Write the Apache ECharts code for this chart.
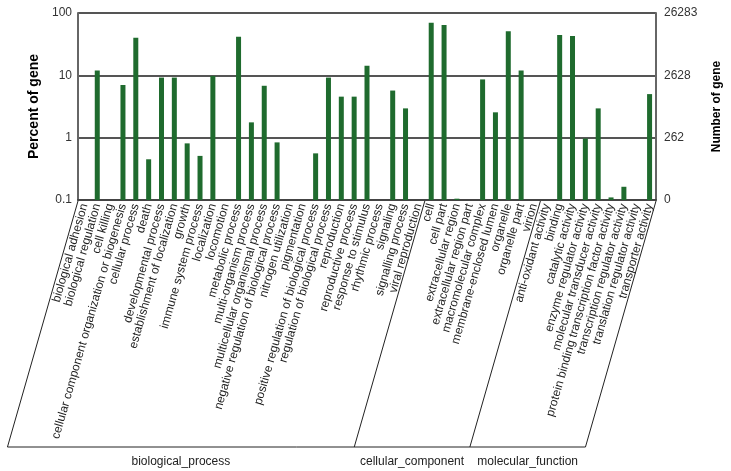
<!DOCTYPE html>
<html>
<head>
<meta charset="utf-8">
<script src="https://cdn.jsdelivr.net/npm/echarts@6/dist/echarts.min.js"></script>
<style>
html,body{margin:0;padding:0;background:#fff;}
#chart{width:731px;height:471px;}
</style>
</head>
<body>
<div id="chart"></div>
<script>
const categories = [
  'biological adhesion','biological regulation','cell killing',
  'cellular component organization or biogenesis','cellular process','death',
  'developmental process','establishment of localization','growth',
  'immune system process','localization','locomotion','metabolic process',
  'multi-organism process','multicellular organismal process',
  'negative regulation of biological process','nitrogen utilization','pigmentation',
  'positive regulation of biological process','regulation of biological process',
  'reproduction','reproductive process','response to stimulus','rhythmic process',
  'signaling','signalling process','viral reproduction',
  'cell','cell part','extracellular region','extracellular region part',
  'macromolecular complex','membrane-enclosed lumen','organelle','organelle part','virion',
  'anti-oxidant activity','binding','catalytic activity','enzyme regulator activity',
  'molecular transducer activity','protein binding transcription factor activity',
  'transcription regulator activity','translation regulator activity','transporter activity'
];
const percent = [
  null, 11.9, null, 7.0, 40.2, 0.45, 9.2, 9.2, 0.81, 0.51, 9.8, null, 41.7,
  1.76, 6.8, 0.84, null, null, 0.56, 9.2, 4.55, 4.55, 14.3, null, 5.7, 2.95, null,
  70, 64, 0.105, null, 8.6, 2.55, 51, 11.9, null,
  null, 44.4, 42.8, 0.97, 2.95, 0.11, 0.163, null, 5.0
];
const groupNames = ['biological_process','cellular_component','molecular_function'];
const groupSizes = [27, 9, 9];
const leftTickValues = [0.1, 1, 10, 100];
const leftTickLabels = ['0.1', '1', '10', '100'];
const rightTickLabels = ['0', '262', '2628', '26283'];
const axisMin = 0.1, axisMax = 100;

function tickIndex(v){
  let best = 0, bd = Infinity;
  leftTickValues.forEach((t,i)=>{const d=Math.abs(Math.log10(v)-Math.log10(t)); if(d<bd){bd=d;best=i;}});
  return best;
}

const chart = echarts.init(document.getElementById('chart'), null, {renderer:'canvas'});
const font = 'Arial, "Liberation Sans", sans-serif';
const barData = percent.map((v,i)=>[i, v == null ? '-' : v]);

chart.setOption({
  animation:false,
  backgroundColor:'#fff',
  grid:{left:78, right:64, top:13, bottom:271},
  xAxis:{
    type:'category', data:categories,
    axisTick:{show:false},
    axisLine:{lineStyle:{color:'#444', width:2}},
    axisLabel:{interval:0, rotate:74, fontSize:12, color:'#222', fontFamily:font, margin:4}
  },
  yAxis:[{
    type:'log', logBase:10, min:axisMin, max:axisMax,
    name:'Percent of gene', nameLocation:'middle', nameGap:31, nameRotate:90,
    nameTextStyle:{fontWeight:'bold', fontSize:14, color:'#000', fontFamily:font},
    axisLine:{show:true, lineStyle:{color:'#666', width:2}},
    axisTick:{show:false},
    axisLabel:{color:'#333', fontSize:12, fontFamily:font, margin:6,
      formatter:(v)=>leftTickLabels[tickIndex(v)]},
    splitLine:{show:true, lineStyle:{color:'#555', width:2}}
  },{
    type:'log', logBase:10, min:axisMin, max:axisMax, position:'right',
    name:'Number of gene', nameLocation:'middle', nameGap:55, nameRotate:90,
    nameTextStyle:{fontWeight:'bold', fontSize:12, color:'#000', fontFamily:font},
    axisLine:{show:true, lineStyle:{color:'#666', width:2}},
    axisTick:{show:false},
    axisLabel:{color:'#333', fontSize:12, fontFamily:font, margin:8,
      formatter:(v)=>rightTickLabels[tickIndex(v)]},
    splitLine:{show:false}
  }],
  series:[{
    type:'custom', data:barData, encode:{x:0, y:1},
    renderItem:(params, api)=>{
      const v = api.value(1);
      if (v == null || isNaN(v)) return null;
      const top = api.coord([api.value(0), v]);
      const base = api.coord([api.value(0), axisMin]);
      const w = 5;
      return {type:'rect', shape:{x:top[0]-w/2, y:top[1], width:w, height:base[1]-top[1]},
        style:{fill:'#1f6b2e'}};
    }
  }]
});

// group brackets under the category labels
const x0 = chart.convertToPixel({xAxisIndex:0}, 0);
const x1 = chart.convertToPixel({xAxisIndex:0}, 1);
const step = x1 - x0;
const yTop = chart.convertToPixel({yAxisIndex:0}, axisMin) + 1;
const yBottom = 447;
const slant = (yBottom - yTop) / Math.tan(74 * Math.PI / 180);
const bounds = [0];
groupSizes.forEach(s => bounds.push(bounds[bounds.length-1] + s));
const bx = bounds.map(k => x0 + step * (k - 0.5));
const elements = [];
bx.forEach(x => {
  elements.push({type:'line', shape:{x1:x, y1:yTop, x2:x - slant, y2:yBottom},
    style:{stroke:'#222', lineWidth:1}});
});
elements.push({type:'line', shape:{x1:bx[0]-slant, y1:yBottom, x2:bx[bx.length-1]-slant, y2:yBottom},
  style:{stroke:'#222', lineWidth:1}});
groupNames.forEach((g,i) => {
  const cx = (bx[i] + bx[i+1]) / 2 - slant;
  elements.push({type:'text', x:cx, y:yBottom + 15,
    style:{text:g, fill:'#222', font:'12px ' + font, align:'center', verticalAlign:'middle'}});
});
chart.setOption({graphic:{elements}});
</script>
</body>
</html>
